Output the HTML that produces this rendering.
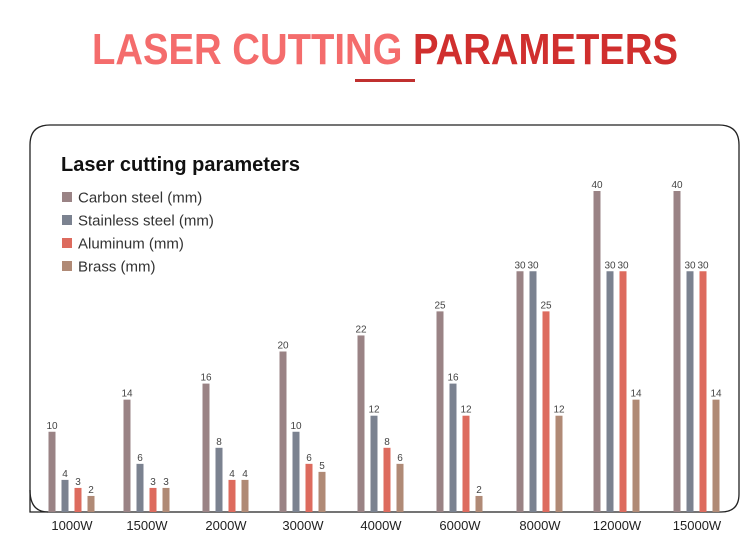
<!DOCTYPE html>
<html><head><meta charset="utf-8"><style>
html,body{margin:0;padding:0;background:#fff;width:751px;height:555px;overflow:hidden}
svg{display:block;font-family:"Liberation Sans",sans-serif}
</style></head><body>
<svg id="chart" width="751" height="555" viewBox="0 0 751 555">
<text x="92" y="64" font-size="44" font-weight="bold" textLength="586" lengthAdjust="spacingAndGlyphs"><tspan fill="#f46c6c">LASER CUTTING </tspan><tspan fill="#d02f2e">PARAMETERS</tspan></text>
<rect x="355" y="79" width="60" height="3" fill="#c0302f"/>
<path d="M30,512 L30,145 Q30,125 50,125 L719,125 Q739,125 739,145 L739,494 Q739,512 721,512 Z" fill="none" stroke="#222" stroke-width="1.3"/>
<path d="M30,490 Q30,512 48,512" fill="none" stroke="#222" stroke-width="1.3"/>
<text x="61" y="171" font-size="20" font-weight="bold" fill="#111">Laser cutting parameters</text>
<g id="legend"></g>
<g id="bars"></g>
<g id="xlabels"></g>
</svg>
<script>
const categories = ["1000W","1500W","2000W","3000W","4000W","6000W","8000W","12000W","15000W"];
const seriesNames = ["Carbon steel (mm)","Stainless steel (mm)","Aluminum (mm)","Brass (mm)"];
const carbon = [10,14,16,20,22,25,30,40,40];
const stainless = [4,6,8,10,12,16,30,30,30];
const aluminum = [3,3,4,6,8,12,25,30,30];
const brass = [2,3,4,5,6,2,12,14,14];
const series = [carbon, stainless, aluminum, brass];
const colors = ["#9a8385","#7b8290","#dd6b5e","#b08a76"];
const centers = [72,147,226,303,381,460,540,617,697];
const baseY = 512, pxPerUnit = 8.025;
function yScale(v){ return baseY - v*pxPerUnit; }
function xScale(i, s){ return centers[i] - 23.5 + s*13; }
const NS = "http://www.w3.org/2000/svg";
const legend = document.getElementById('legend');
seriesNames.forEach((n, s) => {
  const y = 197 + s*23;
  const r = document.createElementNS(NS,'rect');
  r.setAttribute('x',62); r.setAttribute('y',y-5); r.setAttribute('width',10); r.setAttribute('height',10);
  r.setAttribute('fill',colors[s]);
  
  
  legend.appendChild(r);
  const t = document.createElementNS(NS,'text');
  t.setAttribute('x',78); t.setAttribute('y',y+5.5); t.setAttribute('font-size',15); t.setAttribute('fill','#333');
  t.textContent = n;
  
  
  legend.appendChild(t);
});
const bars = document.getElementById('bars');
categories.forEach((c, i) => {
  series.forEach((arr, s) => {
    const v = arr[i];
    const x = xScale(i, s), y = yScale(v);
    const r = document.createElementNS(NS,'rect');
    r.setAttribute('x',x); r.setAttribute('y',y); r.setAttribute('width',7); r.setAttribute('height',baseY-y);
    r.setAttribute('fill',colors[s]);
    
    
    bars.appendChild(r);
    const t = document.createElementNS(NS,'text');
    t.setAttribute('x',x+3.5); t.setAttribute('y',y-3); t.setAttribute('font-size',10);
    t.setAttribute('text-anchor','middle'); t.setAttribute('fill','#444');
    t.textContent = v;
    
    
    bars.appendChild(t);
  });
  const t = document.createElementNS(NS,'text');
  t.setAttribute('x',centers[i]); t.setAttribute('y',530); t.setAttribute('font-size',13);
  t.setAttribute('text-anchor','middle'); t.setAttribute('fill','#222');
  t.textContent = c;
  
  
  document.getElementById('xlabels').appendChild(t);
});
</script>
</body></html>
